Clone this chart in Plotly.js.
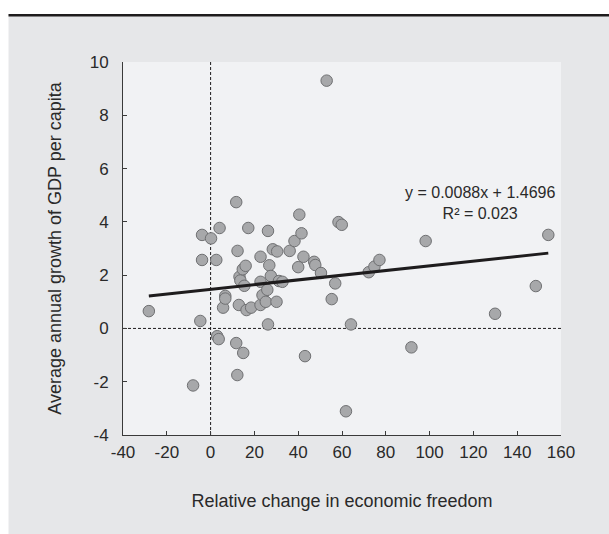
<!DOCTYPE html>
<html>
<head>
<meta charset="utf-8">
<script src="https://cdn.plot.ly/plotly-3.0.1.min.js"></script>
<style>html,body{margin:0;padding:0;background:#fff;}#chart{width:609px;height:534px;}</style>
</head>
<body>
<div id="chart"></div>
<script>
// Relative change in economic freedom (x) vs average annual growth of GDP per capita (y)
const freedomChange = [-28.2, -8.0, -4.7, -3.9, -3.9, 0.2, 2.6, 3.0, 3.7, 4.1,
  5.7, 6.7, 6.7, 11.7, 11.7, 12.2, 12.3, 12.9, 13.2, 13.6,
  14.7, 14.9, 15.4, 16.0, 16.4, 17.2, 18.5, 22.8, 22.8, 22.8,
  23.7, 25.2, 25.9, 26.2, 26.2, 26.8, 27.5, 28.4, 30.4, 30.1,
  31.2, 32.8, 36.1, 38.3, 40.0, 40.5, 41.5, 42.4, 43.1, 47.3,
  47.8, 50.4, 53.0, 55.3, 56.9, 58.4, 59.9, 61.8, 64.1, 72.2,
  74.8, 77.1, 91.7, 98.2, 129.9, 148.5, 154.2];
const gdpGrowth = [0.65, -2.14, 0.28, 3.51, 2.57, 3.38, 2.57, -0.29, -0.40, 3.77,
  0.78, 1.22, 1.12, 4.74, -0.55, -1.75, 2.91, 0.88, 1.94, 1.80,
  2.22, -0.92, 1.60, 2.35, 0.69, 3.77, 0.78, 2.69, 1.75, 0.88,
  1.25, 1.00, 1.45, 0.15, 3.66, 2.37, 1.97, 2.97, 2.89, 1.00,
  1.78, 1.75, 2.91, 3.28, 2.30, 4.27, 3.57, 2.69, -1.04, 2.50,
  2.38, 2.08, 9.30, 1.10, 1.69, 3.99, 3.89, -3.11, 0.15, 2.11,
  2.32, 2.57, -0.71, 3.28, 0.55, 1.59, 3.51];

// Linear trend as printed on the chart
const trendSlope = 0.0088;
const trendIntercept = 1.4696;
const rSquared = 0.023;

const xTicks = [-40, -20, 0, 20, 40, 60, 80, 100, 120, 140, 160];
const yTicks = [-4, -2, 0, 2, 4, 6, 8, 10];

const xMin = Math.min(...freedomChange), xMax = Math.max(...freedomChange);
const trendX = [xMin, xMax];
const trendY = trendX.map(v => trendSlope * v + trendIntercept);

const FONT = '"Liberation Sans", Arial, sans-serif';
const TXT = '#2a2a2a';

const traces = [
  {
    type: 'scatter', mode: 'markers', x: freedomChange, y: gdpGrowth,
    marker: {size: 11.5, color: '#a7a8aa', line: {color: '#6f7072', width: 1}},
    hoverinfo: 'x+y', showlegend: false
  },
  {
    type: 'scatter', mode: 'lines', x: trendX, y: trendY,
    line: {color: '#1e1c1d', width: 3}, hoverinfo: 'skip', showlegend: false
  }
];

const layout = {
  width: 609, height: 534,
  margin: {l: 123, r: 48, t: 62, b: 99},
  paper_bgcolor: '#e6e7e9',
  plot_bgcolor: '#f1f2f4',
  font: {family: FONT, color: TXT, size: 17},
  showlegend: false,
  xaxis: {
    range: [-40, 160], tickvals: xTicks, ticktext: xTicks.map(String),
    ticks: 'inside', ticklen: 4, tickcolor: '#3a3a3a', ticklabelstandoff: 2,
    showline: true, linecolor: '#3a3a3a', linewidth: 1,
    showgrid: false, zeroline: false, fixedrange: true,
    tickfont: {size: 17, color: TXT},
    title: {text: 'Relative change in economic freedom', font: {size: 18, color: TXT}, standoff: 32}
  },
  yaxis: {
    range: [-4, 10], tickvals: yTicks, ticktext: yTicks.map(String),
    ticks: 'inside', ticklen: 4, tickcolor: '#3a3a3a', ticklabelstandoff: 10,
    showline: true, linecolor: '#3a3a3a', linewidth: 1,
    showgrid: false, zeroline: false, fixedrange: true,
    tickfont: {size: 17, color: TXT},
    title: {text: 'Average annual growth of GDP per capita', font: {size: 18, color: TXT}, standoff: 23}
  },
  shapes: [
    {type: 'line', xref: 'x', yref: 'paper', x0: 0, x1: 0, y0: 0, y1: 1,
     line: {color: '#1e1c1d', width: 1, dash: '3px,2px'}, layer: 'below'},
    {type: 'line', xref: 'paper', yref: 'y', x0: 0, x1: 1, y0: 0, y1: 0,
     line: {color: '#1e1c1d', width: 1, dash: '3px,2px'}, layer: 'below'},
    // white page margin left and top, black rule on top of panel
    {type: 'rect', xref: 'paper', yref: 'paper', x0: -0.2808, x1: -0.2614, y0: -0.27, y1: 1.17,
     fillcolor: '#ffffff', line: {width: 0}},
    {type: 'rect', xref: 'paper', yref: 'paper', x0: -0.2808, x1: 1.12, y0: 1.1287, y1: 1.17,
     fillcolor: '#ffffff', line: {width: 0}},
    {type: 'rect', xref: 'paper', yref: 'paper', x0: -0.2614, x1: 1.12, y0: 1.1220, y1: 1.1287,
     fillcolor: '#1e1c1d', line: {width: 0}}
  ],
  annotations: [
    {xref: 'paper', yref: 'paper', x: 0.814, y: 0.622, xanchor: 'center', yanchor: 'middle',
     text: 'y = ' + trendSlope.toFixed(4) + 'x + ' + trendIntercept.toFixed(4) + '<br>R² = ' + rSquared.toFixed(3),
     showarrow: false, align: 'center', font: {size: 16, color: TXT}}
  ]
};

Plotly.newPlot('chart', traces, layout, {displayModeBar: false, staticPlot: true});
</script>
</body>
</html>
